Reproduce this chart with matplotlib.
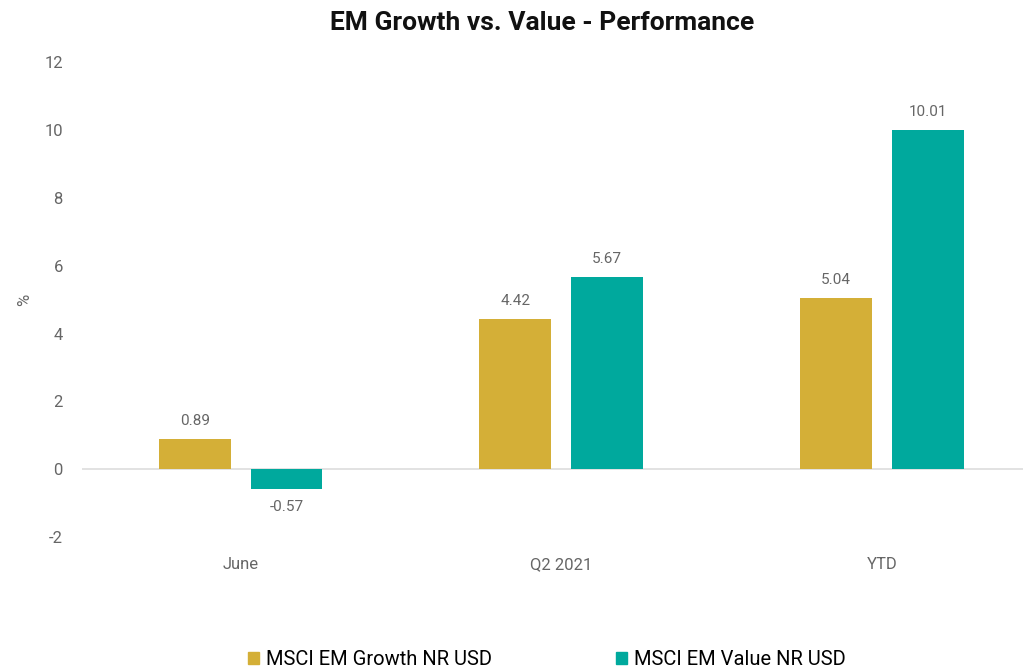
import matplotlib
matplotlib.use("Agg")
import matplotlib.pyplot as plt
import matplotlib.patches as mpatches
import numpy as np

# ── Data ─────────────────────────────────────────────────────────────────────
categories = ["June", "Q2 2021", "YTD"]
growth     = [0.89, 4.42, 5.04]
value      = [-0.57, 5.67, 10.01]
series_names = ["MSCI EM Growth NR USD", "MSCI EM Value NR USD"]
y_ticks    = [-2, 0, 2, 4, 6, 8, 10, 12]

# ── Style ────────────────────────────────────────────────────────────────────
_GOLD = "#D4AF37"
_TEAL = "#00A99D"
_TICK = "#666666"
_ZERO = "#DDDDDD"
plt.rcParams["font.family"] = ["Roboto", "DejaVu Sans"]

fig = plt.figure(figsize=(10.28, 6.69), dpi=100)
ax = fig.add_axes([0.08, 0.197, 0.915, 0.71])

x = np.arange(len(categories))
w = 0.224
off = 0.143
ax.bar(x - off, growth, w, color=_GOLD, zorder=3)
ax.bar(x + off, value, w, color=_TEAL, zorder=3)

for xs, vals in ((x - off, growth), (x + off, value)):
    for xi, v in zip(xs, vals):
        ax.annotate(f"{v:.2f}", (xi, v), xytext=(0, 8 if v >= 0 else -8),
                    textcoords="offset points", ha="center",
                    va="bottom" if v >= 0 else "top", fontsize=11, color=_TICK)

ax.axhline(0, color=_ZERO, linewidth=1.2, zorder=2)
ax.set_ylim(-2, 12)
ax.set_xlim(-0.494, 2.44)
ax.set_yticks(y_ticks)
ax.set_yticklabels([str(t) for t in y_ticks])
ax.set_xticks(x)
ax.set_xticklabels(categories)
ax.tick_params(axis="both", length=0, colors=_TICK, labelsize=12)
ax.tick_params(axis="y", pad=14)
ax.tick_params(axis="x", pad=14)
for spine in ax.spines.values():
    spine.set_visible(False)

ax.set_ylabel("%", color=_TICK, fontsize=12, labelpad=9)
ax.set_title("EM Growth vs. Value - Performance", fontsize=19,
             fontweight="bold", color="#111111", pad=23, x=0.489)

handles = [mpatches.Patch(color=_GOLD, label=series_names[0]),
           mpatches.Patch(color=_TEAL, label=series_names[1])]
fig.legend(handles=handles, loc="lower center", bbox_to_anchor=(0.532, -0.027),
           ncol=2, frameon=False, fontsize=14.5, handlelength=0.5,
           handleheight=0.5, handletextpad=0.35, columnspacing=6.2)

fig.savefig("out.png", dpi=100, facecolor="white")
